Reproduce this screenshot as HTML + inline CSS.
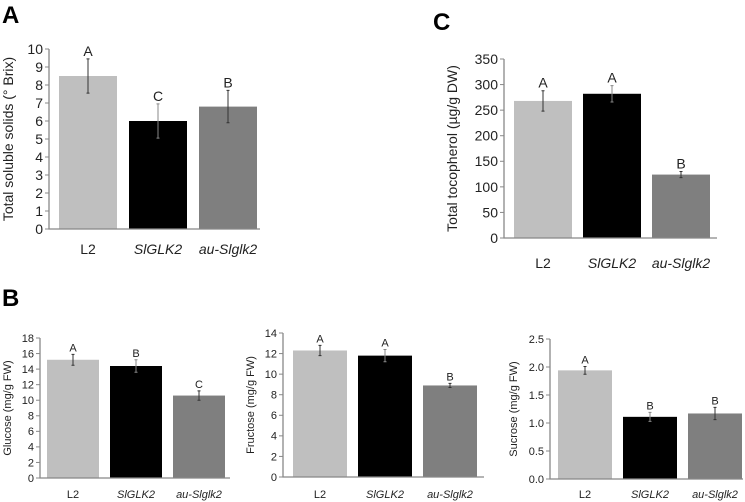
<!DOCTYPE html>
<html><head><meta charset="utf-8"><style>
body{margin:0;background:#fff;}
svg{display:block;font-family:"Liberation Sans",sans-serif;}
</style></head><body>
<svg id="s" width="745" height="502" viewBox="0 0 745 502">
<text x="2" y="23" font-size="24" font-weight="bold">A</text>
<text x="433" y="30" font-size="24" font-weight="bold">C</text>
<text x="2" y="306" font-size="24" font-weight="bold">B</text>
</svg>
<script>
const categories=["L2","SlGLK2","au-Slglk2"];
const colors=["#bfbfbf","#000000","#7f7f7f"];
const brixValues=[8.5,6.0,6.8];
const brixErr=[0.95,0.95,0.9];
const brixLetters=["A","C","B"];
const brixTicks=["0","1","2","3","4","5","6","7","8","9","10"];
const tocoValues=[268,282,124];
const tocoErr=[20,16,6];
const tocoLetters=["A","A","B"];
const tocoTicks=["0","50","100","150","200","250","300","350"];
const gluValues=[15.2,14.4,10.6];
const gluErr=[0.7,0.8,0.6];
const gluLetters=["A","B","C"];
const gluTicks=["0","2","4","6","8","10","12","14","16","18"];
const fruValues=[12.3,11.8,8.9];
const fruErr=[0.5,0.6,0.2];
const fruLetters=["A","A","B"];
const fruTicks=["0","2","4","6","8","10","12","14"];
const sucValues=[1.94,1.11,1.17];
const sucErr=[0.07,0.08,0.11];
const sucLetters=["A","B","B"];
const sucTicks=["0.0","0.5","1.0","1.5","2.0","2.5"];

const svg=document.getElementById('s');
const NS="http://www.w3.org/2000/svg";
function mk(tag,attrs,parent){const e=document.createElementNS(NS,tag);for(const k in attrs)e.setAttribute(k,attrs[k]);(parent||svg).appendChild(e);return e;}

function chart(c){
  const g=mk('g',{});
  
  
  const maxV=parseFloat(c.ticks[c.ticks.length-1]);
  const y=v=>c.y0-(v/maxV)*(c.y0-c.yTop);
  // bars
  c.values.forEach((v,i)=>{
    const x=c.bx[i];
    const r=mk('rect',{x:x,y:y(v),width:c.bw,height:c.y0-y(v),fill:colors[i]},g);
    
    
    const cx=x+c.bw/2;
    const e=mk('path',{d:`M${cx} ${y(v+c.err[i])}V${y(v-c.err[i])}M${cx-1.5} ${y(v+c.err[i])}h3M${cx-1.5} ${y(v-c.err[i])}h3`,stroke:i==1?"#888":"#333","stroke-width":1,fill:"none"},g);
    
    
    const t=mk('text',{x:cx,y:y(v+c.err[i])-3,"font-size":c.fs,"text-anchor":"middle",fill:"#222"},g);
    t.textContent=c.letters[i];
    
    
    const l=mk('text',{x:cx,y:c.labY,"font-size":c.fs,"text-anchor":"middle",fill:"#222","font-style":i==0?"normal":"italic"},g);
    l.textContent=categories[i];
    
    
  });
  // axes
  const ax=mk('path',{d:`M${c.ax} ${c.yTop}V${c.y0}H${c.axEnd}`,stroke:"#888","stroke-width":1.3,fill:"none"},g);
  
  
  c.ticks.forEach(tk=>{
    const yy=y(parseFloat(tk));
    mk('line',{x1:c.ax-4,x2:c.ax,y1:yy,y2:yy,stroke:"#888"},g);
    const t=mk('text',{x:c.ax-6,y:yy+c.fs*0.35,"font-size":c.fs,"text-anchor":"end",fill:"#222"},g);
    t.textContent=tk;
    
    
  });
  const yt=mk('text',{x:c.ylx,y:(c.y0+c.yTop)/2,"font-size":c.yfs,"text-anchor":"middle",fill:"#222",transform:`rotate(-90 ${c.ylx} ${(c.y0+c.yTop)/2})`},g);
  yt.textContent=c.ytitle;
  
  
}
chart({name:'chart-brix',values:brixValues,err:brixErr,letters:brixLetters,ticks:brixTicks,y0:229,yTop:49,ax:49,axEnd:260,bx:[59,129,199],bw:58,labY:254,fs:14,ylx:13,yfs:14,ytitle:"Total soluble solids (° Brix)"});
chart({name:'chart-tocopherol',values:tocoValues,err:tocoErr,letters:tocoLetters,ticks:tocoTicks,y0:238,yTop:59,ax:504,axEnd:717,bx:[514,583,652],bw:58,labY:268,fs:14,ylx:457,yfs:14,ytitle:"Total tocopherol (µg/g DW)"});
chart({name:'chart-glucose',values:gluValues,err:gluErr,letters:gluLetters,ticks:gluTicks,y0:478,yTop:338,ax:40,axEnd:230,bx:[47,110,173],bw:52,labY:498,fs:11,ylx:11,yfs:11,ytitle:"Glucose (mg/g FW)"});
chart({name:'chart-fructose',values:fruValues,err:fruErr,letters:fruLetters,ticks:fruTicks,y0:477,yTop:333,ax:283,axEnd:484,bx:[293,358,423],bw:54,labY:498,fs:11,ylx:254,yfs:11,ytitle:"Fructose (mg/g FW)"});
chart({name:'chart-sucrose',values:sucValues,err:sucErr,letters:sucLetters,ticks:sucTicks,y0:479,yTop:339,ax:550,axEnd:743,bx:[558,623,688],bw:54,labY:498,fs:11,ylx:517,yfs:11,ytitle:"Sucrose (mg/g FW)"});
</script>
</body></html>
